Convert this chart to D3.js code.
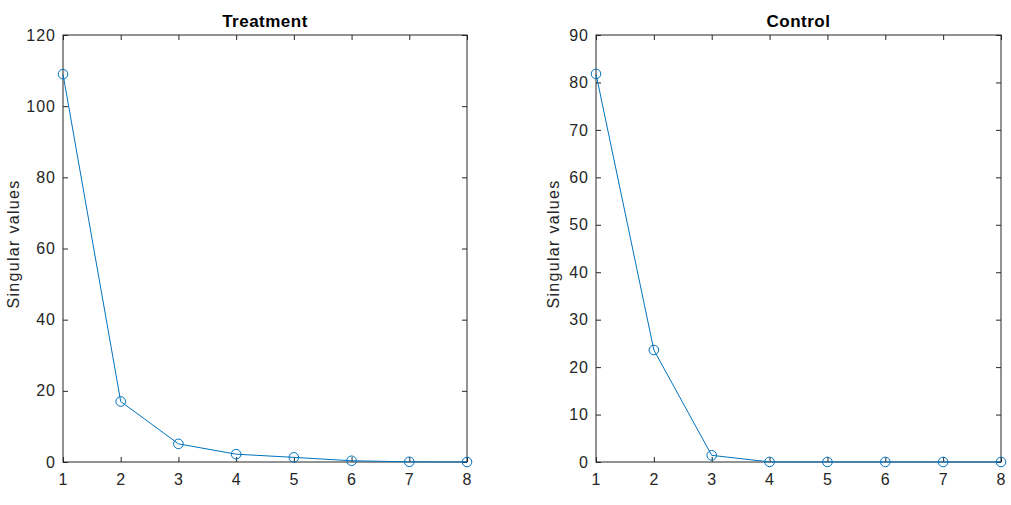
<!DOCTYPE html>
<html><head><meta charset="utf-8">
<script src="https://cdn.jsdelivr.net/npm/d3@7"></script>
<style>body{margin:0;background:#fff}svg{display:block}text{font-family:"Liberation Sans",Arial,sans-serif}</style>
</head><body>
<script>
const xValues = [1,2,3,4,5,6,7,8];
const treatment = [109, 17, 5.1, 2.2, 1.3, 0.35, 0.05, 0];
const control = [81.8, 23.6, 1.4, 0.02, 0.01, 0.01, 0.0, 0.0];
const titles = ["Treatment", "Control"];
const yLabel = "Singular values";
const treatmentTicks = [0,20,40,60,80,100,120];
const controlTicks = [0,10,20,30,40,50,60,70,80,90];

(function(){
const W=1011,H=505;
const svg=d3.select("body").append("svg").attr("width",W).attr("height",H);
const color="#0072BD";
const panels=[
 {title:titles[0],data:treatment,ticks:treatmentTicks,ymax:120,x0:63,x1:467,lab:13},
 {title:titles[1],data:control,ticks:controlTicks,ymax:90,x0:596,x1:1001,lab:553}
];
const yTop=35,yBot=462;
panels.forEach(p=>{
  const x=d3.scaleLinear().domain([1,8]).range([p.x0,p.x1]);
  const y=d3.scaleLinear().domain([0,p.ymax]).range([yBot,yTop]);
  const g=svg.append("g");
  const axStyle=a=>{a.select(".domain").remove();a.selectAll("line").attr("stroke","#262626");a.selectAll("text").attr("fill","#262626").style("font-size","16px").style("letter-spacing","1px");};
  g.append("g").attr("transform",`translate(0,${yBot})`).call(d3.axisBottom(x).tickValues(xValues).tickFormat(d3.format("d")).tickSizeInner(-5).tickPadding(12)).call(axStyle);
  g.append("g").attr("transform",`translate(0,${yTop})`).call(d3.axisTop(x).tickValues(xValues).tickFormat("").tickSizeInner(-5)).call(axStyle);
  g.append("g").attr("transform",`translate(${p.x0},0)`).call(d3.axisLeft(y).tickValues(p.ticks).tickFormat(d3.format("d")).tickSizeInner(-5).tickPadding(7)).call(axStyle);
  g.append("g").attr("transform",`translate(${p.x1},0)`).call(d3.axisRight(y).tickValues(p.ticks).tickFormat("").tickSizeInner(-5)).call(axStyle);
  g.append("rect").attr("x",p.x0).attr("y",yTop).attr("width",p.x1-p.x0).attr("height",yBot-yTop).attr("fill","none").attr("stroke","#262626").attr("stroke-width",1);
  const line=d3.line().x((d,i)=>x(xValues[i])).y(d=>y(d));
  g.append("path").datum(p.data).attr("d",line).attr("fill","none").attr("stroke",color).attr("stroke-width",1);
  g.selectAll("circle.m").data(p.data).enter().append("circle").attr("cx",(d,i)=>x(xValues[i])).attr("cy",d=>y(d)).attr("r",4.8).attr("fill","none").attr("stroke",color).attr("stroke-width",1);
  g.append("text").attr("x",(p.x0+p.x1)/2).attr("y",27).attr("text-anchor","middle").style("font-size","17px").style("font-weight","bold").style("letter-spacing","0.5px").attr("fill","#000").text(p.title);
  g.append("text").attr("transform",`translate(${p.lab},244) rotate(-90)`).attr("text-anchor","middle").attr("dy","0.35em").style("font-size","16px").style("letter-spacing","1.3px").attr("fill","#262626").text(yLabel);
});
})();
</script>
</body></html>
